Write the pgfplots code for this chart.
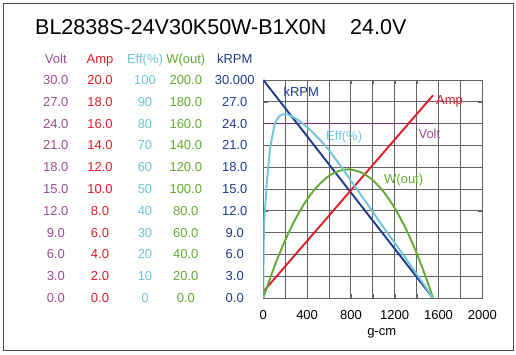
\documentclass[border=0pt]{standalone}
\usepackage{pgfplots}
\pgfplotsset{compat=1.18}
\usepackage{fontspec}
\setmainfont{Liberation Sans}
\definecolor{cvolt}{RGB}{155,75,150}
\definecolor{cvoltline}{RGB}{120,40,110}
\definecolor{camp}{RGB}{220,30,40}
\definecolor{ceff}{RGB}{110,198,215}
\definecolor{cw}{RGB}{100,170,50}
\definecolor{crpm}{RGB}{30,60,140}
\definecolor{cgrid}{RGB}{100,100,100}
\newcommand{\fs}{\fontsize{13}{15}\selectfont}
\pgfplotsset{
  lblaxis/.style={
    at={(263.3pt,57pt)}, anchor=south west, scale only axis,
    width=219pt, height=218pt,
    xmin=0, xmax=1, ymin=0, ymax=30,
    xtick=\empty, ytick={0,3,...,30},
    axis line style={draw=none}, major tick length=0pt,
    yticklabel style={anchor=center, font=\fs},
  }
}
\begin{document}
\begin{tikzpicture}
\path[use as bounding box] (0,0) rectangle (516pt,355pt);
\draw[line width=1.3pt, color=black!70] (3.3pt,4.3pt) rectangle (513.3pt,351.7pt);
% main axis
\begin{axis}[
  at={(263.3pt,57pt)}, anchor=south west, scale only axis,
  width=219pt, height=218pt,
  xmin=0, xmax=2000, ymin=0, ymax=30,
  xtick={0,200,...,2000},
  xticklabels={0,,400,,800,,1200,,1600,,2000},
  ytick={0,3,...,30}, yticklabels={,,,,,,,,,,},
  grid=major,
  major grid style={color=cgrid, line width=0.9pt},
  axis line style={color=cgrid, line width=0.9pt},
  tick style={color=cgrid},
  xticklabel style={font=\fs, yshift=-8.5pt},
]
% Volt
\addplot[cvoltline, line width=1.6pt] coordinates {(0,24.0) (1550,24.0)};
% kRPM
\addplot[crpm, line width=1.9pt] coordinates {(0,30.0) (1550,0.0)};
% Amp (scaled x1.5 to volt axis)
\addplot[camp, line width=1.9pt, y filter/.expression={y*1.5}] coordinates {(0,0.58) (1550,18.6)};
% W(out) (scaled x0.15)
\addplot[cw, line width=1.9pt, smooth, y filter/.expression={y*0.15}] coordinates {
(0,0) (100,28.5) (200,53.0) (300,73.7) (400,90.4) (500,103.1) (600,112.0)
(700,116.9) (775,118.0) (800,117.9) (900,114.9) (1000,108.1) (1100,97.2)
(1200,82.5) (1300,63.9) (1400,41.3) (1500,14.7) (1550,0)};
% Eff (scaled x0.3)
\addplot[ceff, line width=1.9pt, smooth, tension=0.4, y filter/.expression={y*0.3}] coordinates {
(0,0) (2,15) (5,28) (10,36) (20,44) (31,52) (45,60) (61,68) (85,75) (107,80)
(140,83) (168,84) (214,84.3) (274,83) (335,81) (400,78.3) (450,76) (500,73.5)
(584,68.8) (700,61) (847,50.5) (1000,39.5) (1096,32.5) (1250,21.8) (1400,11) (1550,0)};
% in-plot labels
\node[anchor=west, inner sep=0, font=\fs, text=crpm] at (axis cs:183,28.4) {kRPM};
\node[anchor=west, inner sep=0, font=\fs, text=camp] at (axis cs:1577,27.0) {Amp};
\node[anchor=west, inner sep=0, font=\fs, text=cvolt] at (axis cs:1416,22.6) {Volt};
\node[anchor=west, inner sep=0, font=\fs, text=ceff] at (axis cs:573,22.2) {Eff(\%)};
\node[anchor=west, inner sep=0, font=\fs, text=cw] at (axis cs:1102,16.24) {W(out)};
\end{axis}
% title
\node[anchor=base west, inner sep=0, font=\fontsize{21.5}{24}\selectfont] at (35pt,320pt) {BL2838S-24V30K50W-B1X0N};
\node[anchor=base west, inner sep=0, font=\fontsize{21.5}{24}\selectfont] at (350pt,320pt) {24.0V};
% column headers
\node[anchor=base, inner sep=0, font=\fs, text=cvolt] at (55.8pt,291.7pt) {Volt};
\node[anchor=base, inner sep=0, font=\fs, text=camp] at (100pt,291.7pt) {Amp};
\node[anchor=base, inner sep=0, font=\fs, text=ceff] at (145pt,291.7pt) {Eff(\%)};
\node[anchor=base, inner sep=0, font=\fs, text=cw] at (185.8pt,291.7pt) {W(out)};
\node[anchor=base, inner sep=0, font=\fs, text=crpm] at (234.7pt,291.7pt) {kRPM};
% tick label columns
\begin{axis}[lblaxis, yticklabel style={text=cvolt, xshift=-207.5pt},
  yticklabels={0.0,3.0,6.0,9.0,12.0,15.0,18.0,21.0,24.0,27.0,30.0}]
\end{axis}
\begin{axis}[lblaxis, yticklabel style={text=camp, xshift=-163.3pt},
  yticklabels={0.0,2.0,4.0,6.0,8.0,10.0,12.0,14.0,16.0,18.0,20.0}]
\end{axis}
\begin{axis}[lblaxis, yticklabel style={text=ceff, xshift=-118.3pt},
  yticklabels={0,10,20,30,40,50,60,70,80,90,100}]
\end{axis}
\begin{axis}[lblaxis, yticklabel style={text=cw, xshift=-77.5pt},
  yticklabels={0.0,20.0,40.0,60.0,80.0,100.0,120.0,140.0,160.0,180.0,200.0}]
\end{axis}
\begin{axis}[lblaxis, yticklabel style={text=crpm, xshift=-28.6pt},
  yticklabels={0.0,3.0,6.0,9.0,12.0,15.0,18.0,21.0,24.0,27.0,30.000}]
\end{axis}
\node[anchor=base, inner sep=0, font=\fs] at (381.7pt,19pt) {g-cm};
\end{tikzpicture}
\end{document}
